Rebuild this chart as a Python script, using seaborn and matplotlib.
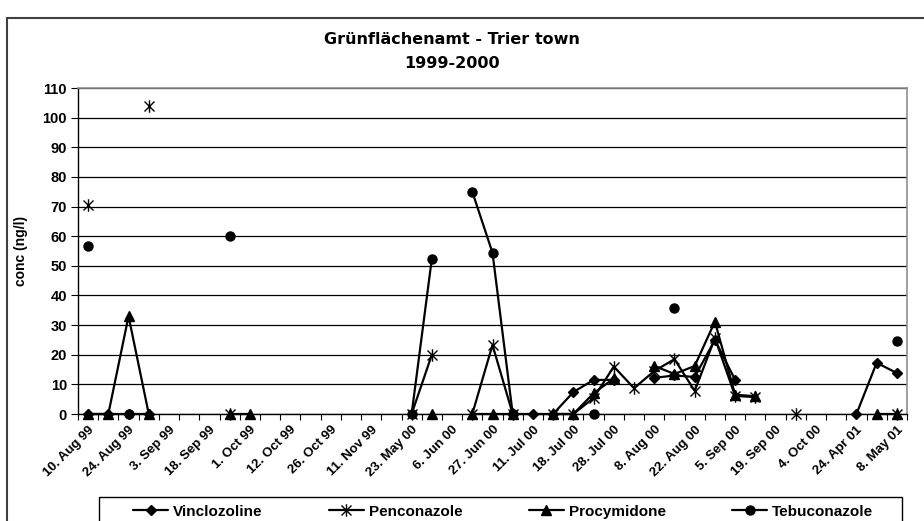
import numpy as np
import pandas as pd
import seaborn as sns
from matplotlib import pyplot as plt
from matplotlib.lines import Line2D
from matplotlib.patches import Rectangle
from matplotlib.path import Path

nan = np.nan

# category axis: 41 sampling dates, only every second one is labelled
tick_labels = ['10. Aug 99', '24. Aug 99', '3. Sep 99', '18. Sep 99', '1. Oct 99', '12. Oct 99',
               '26. Oct 99', '11. Nov 99', '23. May 00', '6. Jun 00', '27. Jun 00', '11. Jul 00',
               '18. Jul 00', '28. Jul 00', '8. Aug 00', '22. Aug 00', '5. Sep 00', '19. Sep 00',
               '4. Oct 00', '24. Apr 01', '8. May 01']

vinclozoline = [0, 0, 0, 0, nan, nan, nan, nan, nan, nan,
                nan, nan, nan, nan, nan, nan, nan, nan, nan, nan,
                nan, 0, 0, 0, 7.4, 11.5, 11.5, nan, 12.2, 13,
                12.5, 25, 11.5, nan, nan, nan, nan, nan, 0, 17.3,
                13.8]
penconazole = [70.6, nan, nan, 104, nan, nan, nan, 0, nan, nan,
               nan, nan, nan, nan, nan, nan, 0, 20, nan, 0,
               23.3, 0, nan, 0, 0, 5.4, 16, 8.7, 14.5, 18.5,
               7.8, 25.6, 6.1, 5.7, nan, 0, nan, nan, nan, nan,
               0]
procymidone = [0, 0, 33, 0, nan, nan, nan, 0, 0, nan,
               nan, nan, nan, nan, nan, nan, nan, 0, nan, 0,
               0, 0, nan, 0, 0, 7, 12, nan, 16.2, 13.5,
               16.2, 31.2, 6.5, 6, nan, nan, nan, nan, nan, 0,
               0]
tebuconazole = [56.6, nan, 0, nan, nan, nan, nan, 60, nan, nan,
                nan, nan, nan, nan, nan, nan, 0, 52.4, nan, 75,
                54.4, 0, nan, nan, nan, 0, nan, nan, nan, 35.8,
                nan, nan, nan, nan, nan, nan, nan, nan, nan, nan,
                24.7]

series = {'Vinclozoline': vinclozoline, 'Penconazole': penconazole,
          'Procymidone': procymidone, 'Tebuconazole': tebuconazole}

# excel style asterisk: X with a vertical bar
star = Path([(-1, -1), (1, 1), (-1, 1), (1, -1), (0, -1.25), (0, 1.25)],
            [Path.MOVETO, Path.LINETO, Path.MOVETO, Path.LINETO, Path.MOVETO, Path.LINETO])
markers = {'Vinclozoline': ('D', 5.5), 'Penconazole': (star, 9),
           'Procymidone': ('^', 7.5), 'Tebuconazole': ('o', 6.5)}

# long table, with a segment id so gaps stay gaps
rows = []
for name, vals in series.items():
    seg = 0
    prev = False
    for i, v in enumerate(vals):
        if np.isnan(v):
            prev = False
            continue
        if not prev:
            seg += 1
        prev = True
        rows.append({'name': name, 'pos': i, 'val': v, 'seg': seg})
df = pd.DataFrame(rows)

sns.set_style('white')
plt.rcParams['font.family'] = ['Liberation Sans', 'DejaVu Sans']
plt.rcParams['font.weight'] = 'bold'
for k in ['text.color', 'axes.labelcolor', 'xtick.color', 'ytick.color']:
    plt.rcParams[k] = 'black'

fig = plt.figure(figsize=(9.24, 5.21), dpi=100)
ax = fig.add_axes([78 / 924, 1 - 414 / 521, (907 - 78) / 924, (414 - 88) / 521])

for name in series:
    m, ms = markers[name]
    sub = df[df['name'] == name]
    sns.lineplot(data=sub, x='pos', y='val', units='seg', estimator=None, color='black',
                 marker=m, markersize=ms, markeredgecolor='black', markeredgewidth=1.0,
                 linewidth=1.6, ax=ax, legend=False, clip_on=False, zorder=3)

ax.set_xlim(-0.5, 40.5)
ax.set_ylim(0, 110)
ax.set_yticks(np.arange(0, 111, 10))
ax.grid(axis='y', color='black', linewidth=0.9)
ax.set_axisbelow(True)

# tick marks at the category borders, labels on every second category
ax.set_xticks(np.arange(-0.5, 41, 1))
ax.set_xticklabels([])
ax.set_xticks(np.arange(0, 41, 2), minor=True)
ax.set_xticklabels(tick_labels, minor=True, rotation=45, ha='right', rotation_mode='anchor',
                   fontsize=9.5, fontweight='bold')
ax.tick_params(axis='x', which='major', direction='out', length=4, width=0.8, color='black', bottom=True)
ax.tick_params(axis='x', which='minor', length=0, pad=7)
ax.tick_params(axis='y', direction='out', length=5, width=0.8, color='black', left=True,
               labelsize=10.5, pad=3)
for t in ax.get_yticklabels():
    t.set_fontweight('bold')

for s in ['left', 'bottom']:
    ax.spines[s].set_color('black')
    ax.spines[s].set_linewidth(1.0)
for s in ['top', 'right']:
    ax.spines[s].set_color('#909090')
    ax.spines[s].set_linewidth(1.2)

ax.set_xlabel('')
ax.set_ylabel('conc (ng/l)', fontsize=10, fontweight='bold', labelpad=10)

fig.text(0.5 - 10 / 924, 1 - 39 / 521, 'Grünflächenamt - Trier town', ha='center', va='center',
         fontsize=11.5, fontweight='bold', family='DejaVu Sans')
fig.text(0.5 - 10 / 924, 1 - 63 / 521, '1999-2000', ha='center', va='center',
         fontsize=11.5, fontweight='bold', family='DejaVu Sans')

# chart area border, cropped on the right and bottom
fig.patches.append(Rectangle((7 / 924, -0.2), 1.1, 1.2 - 18 / 521, transform=fig.transFigure,
                             fill=False, edgecolor='#404040', linewidth=1.5))
# legend frame, also cropped at the bottom
fig.patches.append(Rectangle((99 / 924, -0.1), (902 - 99) / 924, 0.1 + 1 - 497 / 521,
                             transform=fig.transFigure, fill=False, edgecolor='black', linewidth=1.0))

handles = [Line2D([], [], color='black', linewidth=1.6, marker=markers[n][0],
                  markersize=markers[n][1], markeredgewidth=1.0) for n in series]
leg = fig.legend(handles, list(series), loc='center left', ncol=4, mode='expand',
                 bbox_to_anchor=(133 / 924, 1 - 512 / 521, (873 - 133) / 924, 0.001),
                 frameon=False, borderaxespad=0, borderpad=0,
                 handlelength=2.3, handletextpad=0.3,
                 prop={'weight': 'bold', 'size': 11})

fig.savefig('out.png', dpi=100)
